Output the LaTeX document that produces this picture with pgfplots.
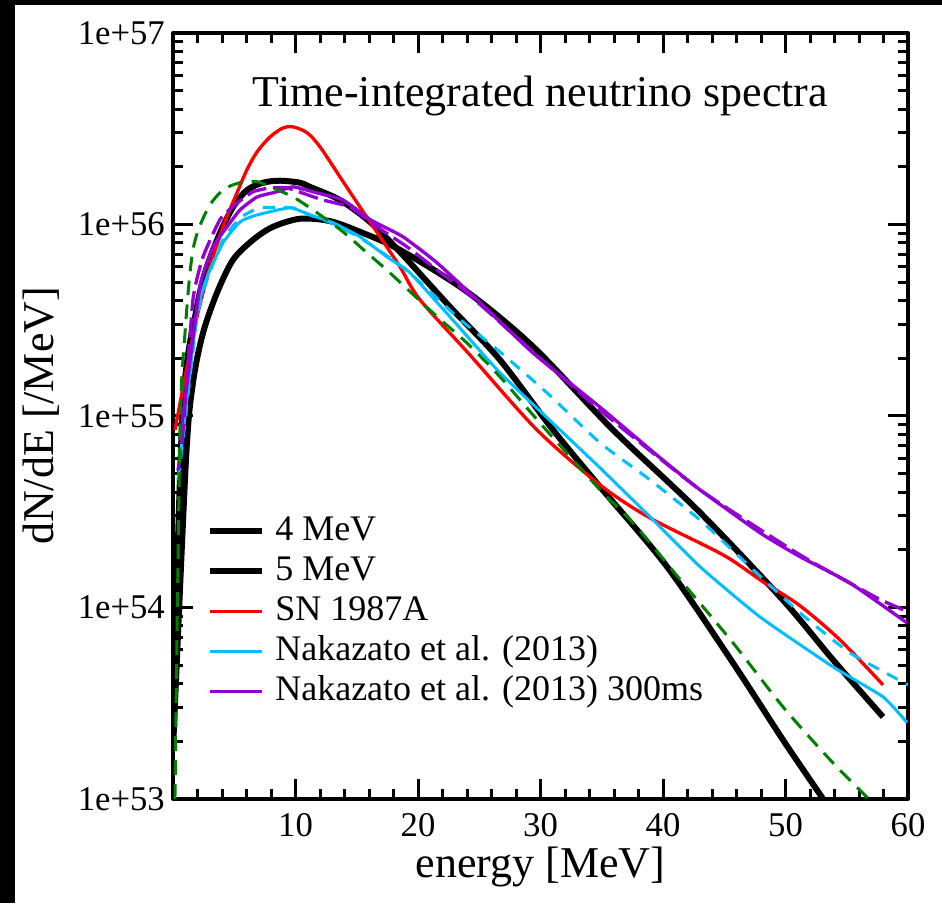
\documentclass[border=0pt]{standalone}
\usepackage{fontspec}
\setmainfont{Liberation Serif}
\usepackage{pgfplots}
\pgfplotsset{compat=1.18}

\definecolor{nakblue}{RGB}{0,190,255}
\definecolor{nakpurple}{RGB}{148,0,211}
\definecolor{fitgreen}{RGB}{0,128,0}

\begin{document}
\begin{tikzpicture}
% frame: dark strip on the left and top edges
\fill[black] (0,0) rectangle (706.5pt,677.25pt);
\fill[white] (11.25pt,0) rectangle (706.5pt,673.5pt);

\begin{axis}[
  at={(129.75pt,78pt)}, anchor=south west,
  scale only axis, width=551.25pt, height=574.5pt,
  xmin=0, xmax=60, ymode=log, ymin=1e53, ymax=1e57,
  xtick={0,10,20,30,40,50,60},
  xticklabels={,10,20,30,40,50,60},
  minor x tick num=4,
  ytick={1e53,1e54,1e55,1e56,1e57},
  yticklabels={1e+53,1e+54,1e+55,1e+56,1e+57},
  tick align=inside, xtick pos=both, ytick pos=both,
  major tick length=15pt, minor tick length=7.5pt,
  tick style={black, line width=2.25pt},
  axis line style={line width=3pt},
  xticklabel style={font=\fontsize{26}{30}\selectfont, anchor=north, inner sep=0pt, yshift=-10.5pt},
  yticklabel style={font=\fontsize{26}{30}\selectfont, anchor=east, inner sep=0pt, xshift=-6pt},
  xlabel={energy [MeV]},
  xlabel style={font=\fontsize{33}{38}\selectfont, at={(axis description cs:0.5,-0.1031)}, anchor=base},
  ylabel={dN/dE [/MeV]},
  ylabel style={font=\fontsize{33}{38}\selectfont, at={(axis description cs:-0.1796,0.5)}, anchor=center},
  legend style={at={(0.0463,0.373)}, anchor=north west, draw=none, fill=none,
    inner sep=0pt, row sep=3pt, column sep=7.5pt,
    font=\fontsize{27}{32}\selectfont,
    nodes={inner sep=0pt, text height=20pt, text depth=7pt}},
  legend cell align=left,
  legend image code/.code={\draw[#1] (0pt,0pt) -- (39pt,0pt);},
  line join=round,
]

% thermal spectra
\addplot[black, line width=4.5pt, smooth, tension=0.5] coordinates {
 (0,2.5e53) (0.8,1.1e55) (1.96,3.71e55) (2.78,6.00e55) (3.84,9.04e55)
 (4.90,1.23e56) (6.04,1.51e56) (7.35,1.65e56) (8.73,1.69e56) (10.37,1.65e56)
 (11.18,1.57e56) (13.63,1.34e56) (16.08,1.03e56) (18.53,7.18e55) (22.61,3.71e55)
 (26.69,1.96e55) (31.02,8.45e54) (34.86,4.26e54) (40.33,1.63e54) (45.71,5.13e53)
 (49.80,2.03e53) (53.06,1.00e53) (54.0,8.0e52)};
\addlegendentry{4 MeV}

\addplot[black, line width=4.5pt, smooth, tension=0.5] coordinates {
 (0,1.8e53) (1.06,5.9e54) (1.63,1.49e55) (2.45,2.71e55) (3.59,4.39e55)
 (4.90,6.53e55) (6.53,8.30e55) (8.16,9.71e55) (10.37,1.07e56) (12.82,1.04e56)
 (15.27,9.14e55) (18.53,7.36e55) (24.0,4.45e55) (29.39,2.30e55) (35.92,8.45e54)
 (43.02,3.13e54) (49.80,1.09e54) (53.88,5.32e53) (57.96,2.68e53)};
\addlegendentry{5 MeV}

% SN 1987A
\addplot[red, line width=2.5pt, smooth, tension=0.5] coordinates {
 (0.16,8.45e54) (1.14,1.80e55) (1.96,3.29e55) (3.02,6.00e55) (4.08,9.70e55)
 (5.22,1.46e56) (6.04,1.93e56) (6.86,2.39e56) (7.92,2.86e56) (8.98,3.19e56)
 (9.80,3.23e56) (10.94,3.01e56) (12.0,2.54e56) (13.63,1.77e56) (15.27,1.23e56)
 (16.90,8.61e55) (18.53,6.00e55) (20.16,4.04e55) (24.24,2.08e55) (29.71,8.45e54)
 (34.86,4.36e54) (38.94,2.93e54) (44.90,1.88e54) (48.16,1.36e54) (51.18,1.02e54)
 (54.45,6.76e53) (57.96,3.94e53)};
\addlegendentry{SN 1987A}

% Nakazato et al. (2013)
\addplot[nakblue, line width=2.25pt, smooth, tension=0.3] coordinates {
 (0.41,5.2e54) (0.82,8.15e54) (1.96,3.45e55) (2.78,5.32e55) (4.08,8.00e55)
 (5.47,1.03e56) (6.86,1.12e56) (9.55,1.22e56) (11.18,1.12e56) (13.06,1.02e56)
 (15.27,8.61e55) (17.47,6.76e55) (19.35,5.58e55) (22.61,3.29e55) (26.69,1.68e55)
 (31.59,8.45e54) (34.86,5.35e54) (38.94,2.97e54) (43.02,1.63e54) (47.92,8.91e53)
 (53.88,4.89e53) (57.96,3.41e53) (59.92,2.50e53)};
\addlegendentry{Nakazato et al. (2013)}

\addplot[nakblue, line width=2.25pt, dash pattern=on 9pt off 7pt, smooth, tension=0.3, forget plot] coordinates {
 (0.41,4.63e54) (0.82,7.50e54) (1.96,3.25e55) (2.78,5.13e55) (4.08,8.30e55)
 (5.47,1.08e56) (7.10,1.22e56) (9.80,1.22e56) (11.18,1.12e56) (13.06,1.01e56)
 (15.27,8.50e55) (17.47,6.85e55) (19.35,5.58e55) (23.18,3.29e55) (26.69,2.16e55)
 (30.53,1.32e55) (34.86,7.23e54) (38.94,4.63e54) (43.02,2.86e54) (47.10,1.63e54)
 (51.18,9.36e53) (55.27,5.78e53) (60.0,3.94e53)};

% Nakazato et al. (2013), first 300 ms
\addplot[nakpurple, line width=2.5pt, smooth, tension=0.3] coordinates {
 (0.57,7.5e54) (0.82,1.01e55) (2.20,4.72e55) (3.27,7.64e55) (4.41,9.71e55)
 (5.47,1.19e56) (6.86,1.39e56) (8.49,1.48e56) (9.80,1.57e56) (11.76,1.46e56)
 (13.88,1.34e56) (16.08,1.06e56) (18.78,8.61e55) (21.55,6.30e55) (24.82,4.04e55)
 (29.39,2.13e55) (34.86,1.11e55) (39.76,6.04e54) (43.02,4.11e54) (47.92,2.45e54)
 (51.18,1.84e54) (55.27,1.34e54) (59.92,8.30e53)};
\addlegendentry{Nakazato et al. (2013) 300ms}

\addplot[nakpurple, line width=2.5pt, dash pattern=on 15pt off 5pt, smooth, tension=0.3, forget plot] coordinates {
 (0.41,5.2e54) (0.82,8.45e54) (1.63,4.04e55) (2.45,6.76e55) (3.84,1.06e56)
 (5.22,1.29e56) (6.53,1.48e56) (7.92,1.55e56) (9.31,1.55e56) (10.94,1.43e56)
 (12.24,1.34e56) (14.45,1.23e56) (16.65,9.71e55) (19.10,7.64e55) (21.55,5.78e55)
 (24.0,4.39e55) (29.39,2.16e55) (34.86,1.07e55) (43.02,4.11e54) (51.18,1.88e54)
 (57.47,1.12e54) (60.0,9.49e53)};

% fitted spectrum
\addplot[fitgreen, line width=2.25pt, dash pattern=on 11pt off 7pt, smooth, tension=0.5, forget plot] coordinates {
 (0.16,1.0e53) (0.57,8.15e54) (0.98,2.71e55) (1.63,7.36e55) (2.78,1.19e56)
 (4.08,1.51e56) (5.47,1.65e56) (6.86,1.67e56) (7.92,1.57e56) (9.80,1.39e56)
 (11.76,1.15e56) (13.88,9.14e55) (15.84,7.10e55) (17.71,5.58e55) (21.22,3.45e55)
 (24.0,2.40e55) (26.69,1.60e55) (29.96,9.18e54) (34.86,4.11e54) (37.55,2.76e54)
 (41.63,1.34e54) (45.71,6.53e53) (49.80,3.02e53) (53.88,1.54e53) (56.65,1.02e53)
 (57.0,9.5e52)};

\node[font=\fontsize{33}{38}\selectfont, anchor=base] at (rel axis cs:0.5,0.9034) {Time-integrated neutrino spectra};
\end{axis}
\end{tikzpicture}
\end{document}
